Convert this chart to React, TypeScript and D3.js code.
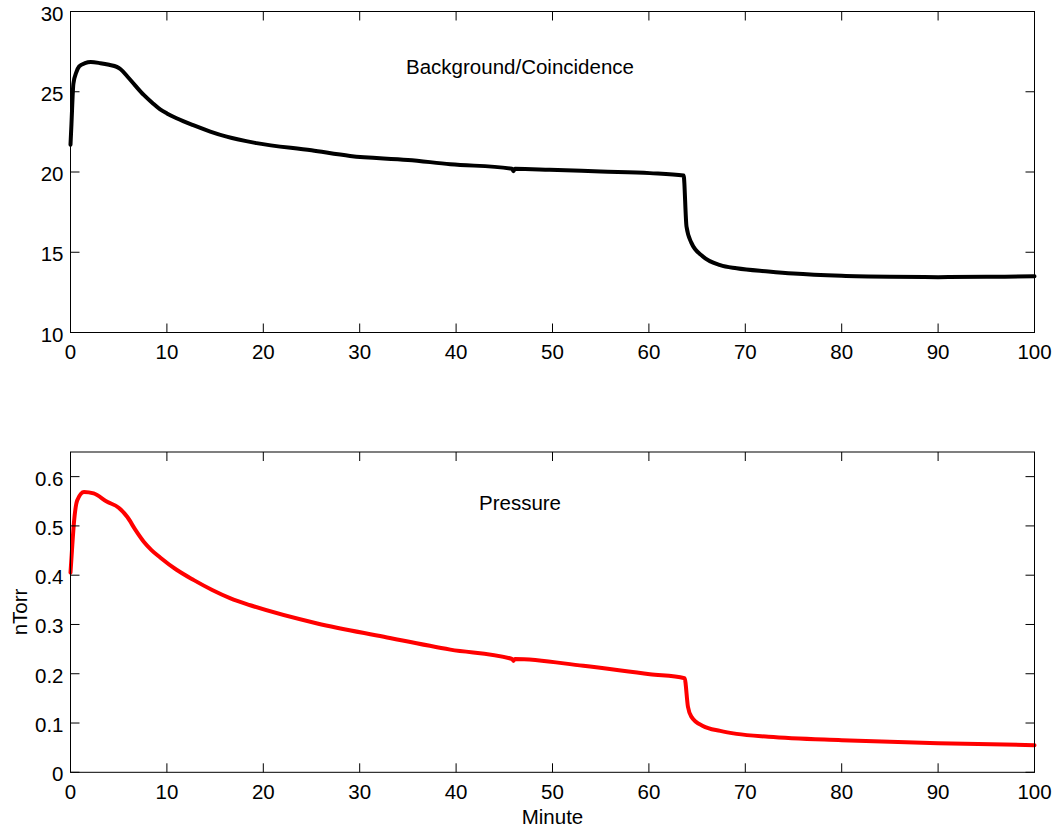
import React from "react";
import * as d3 from "d3";

// Background / coincidence rate versus time
const bgMinutes = [
  0, 0.1, 0.3, 0.6, 0.9, 1.5, 2.1, 3.1, 4.0, 4.8, 5.2, 5.9, 6.7, 7.6, 8.5, 9.3, 10, 11, 12.8, 14.5,
  16.2, 19.3, 25, 29, 35, 39.4, 45.8, 45.95, 46.1, 49.7, 55, 60.1, 63.6, 63.9, 64.4, 65.6, 67.4,
  69.1, 72.4, 75, 80, 85, 90, 95, 100,
];
const bgCounts = [
  21.7, 23.0, 25.5, 26.2, 26.58, 26.78, 26.85, 26.78, 26.68, 26.55, 26.4, 25.95, 25.4, 24.8, 24.3,
  23.9, 23.65, 23.35, 22.9, 22.52, 22.2, 21.8, 21.35, 21.0, 20.75, 20.49, 20.2, 20.05, 20.2, 20.14,
  20.03, 19.93, 19.78, 16.6, 15.6, 14.74, 14.2, 14.0, 13.8, 13.67, 13.53, 13.47, 13.45, 13.47, 13.5,
];

// Chamber pressure (nTorr) versus time
const prMinutes = [
  0, 0.15, 0.35, 0.7, 1.4, 2.4, 3.8, 5.0, 5.9, 6.7, 7.6, 8.4, 9.3, 11, 12.8, 14.7, 16.6, 18.65, 25.6,
  32.5, 39.4, 45.8, 45.95, 46.1, 53.2, 60.1, 63.7, 64.05, 64.4, 65.6, 67.4, 69.1, 72.4, 80, 90, 100,
];
const prTorr = [
  0.405, 0.45, 0.505, 0.552, 0.569, 0.566, 0.549, 0.537, 0.518, 0.493, 0.468, 0.451, 0.436, 0.411,
  0.39, 0.37, 0.353, 0.339, 0.302, 0.275, 0.249, 0.23, 0.226, 0.23, 0.216, 0.199, 0.191, 0.133,
  0.113, 0.094, 0.084, 0.078, 0.072, 0.065, 0.059, 0.055,
];

const xTicks = [0, 10, 20, 30, 40, 50, 60, 70, 80, 90, 100];
const bgTicks = [10, 15, 20, 25, 30];
const prTicks = [0, 0.1, 0.2, 0.3, 0.4, 0.5, 0.6];

const FONT = "'Liberation Sans', Arial, Helvetica, sans-serif";
const FS = 20.5;
const TICK = 9;

type PanelProps = {
  top: number;
  bottom: number;
  left: number;
  right: number;
  yDomain: [number, number];
  yTicks: number[];
  xs: number[];
  ys: number[];
  color: string;
  title: string;
  titleY: number;
};

function Panel({ top, bottom, left, right, yDomain, yTicks, xs, ys, color, title, titleY }: PanelProps) {
  const x = d3.scaleLinear().domain([0, 100]).range([left, right]);
  const y = d3.scaleLinear().domain(yDomain).range([bottom, top]);
  const line = d3
    .line<number>()
    .x((_, i) => x(xs[i]))
    .y((d) => y(d))
    .curve(d3.curveMonotoneX);
  const fmt = (v: number) => String(v);
  return (
    <g>
      <path d={line(ys) || ""} fill="none" stroke={color} strokeWidth={4} strokeLinejoin="round" strokeLinecap="round" />
      <rect x={left} y={top} width={right - left} height={bottom - top} fill="none" stroke="#000" strokeWidth={1} />
      {xTicks.map((t) => (
        <g key={"x" + t}>
          <line x1={x(t)} x2={x(t)} y1={bottom} y2={bottom - TICK} stroke="#000" strokeWidth={1} />
          <line x1={x(t)} x2={x(t)} y1={top} y2={top + TICK} stroke="#000" strokeWidth={1} />
          <text x={x(t)} y={bottom + 26.5} textAnchor="middle" fontSize={FS} fontFamily={FONT} fill="#000">
            {fmt(t)}
          </text>
        </g>
      ))}
      {yTicks.map((t) => (
        <g key={"y" + t}>
          <line x1={left} x2={left + TICK} y1={y(t)} y2={y(t)} stroke="#000" strokeWidth={1} />
          <line x1={right} x2={right - TICK} y1={y(t)} y2={y(t)} stroke="#000" strokeWidth={1} />
          <text x={left - 7} y={y(t) + 9} textAnchor="end" fontSize={FS} fontFamily={FONT} fill="#000">
            {fmt(t)}
          </text>
        </g>
      ))}
      <text x={520} y={titleY} textAnchor="middle" fontSize={FS} fontFamily={FONT} fill="#000">
        {title}
      </text>
    </g>
  );
}

export default function App() {
  const left = 70.5;
  const right = 1034.5;
  return (
    <svg
      width={1061}
      height={831}
      style={{ position: "absolute", left: 0, top: 0, background: "#fff" }}
    >
      <rect width={1061} height={831} fill="#fff" />
      <Panel
        top={11.5}
        bottom={332.5}
        left={left}
        right={right}
        yDomain={[10, 30]}
        yTicks={bgTicks}
        xs={bgMinutes}
        ys={bgCounts}
        color="#000"
        title="Background/Coincidence"
        titleY={74}
      />
      <Panel
        top={452}
        bottom={772.3}
        left={left}
        right={right}
        yDomain={[0, 0.65]}
        yTicks={prTicks}
        xs={prMinutes}
        ys={prTorr}
        color="#ff0000"
        title="Pressure"
        titleY={510}
      />
      <text x={(left + right) / 2} y={824} textAnchor="middle" fontSize={FS} fontFamily={FONT} fill="#000">
        Minute
      </text>
      <text
        transform={`translate(27,612) rotate(-90)`}
        textAnchor="middle"
        fontSize={FS}
        fontFamily={FONT}
        fill="#000"
      >
        nTorr
      </text>
    </svg>
  );
}
